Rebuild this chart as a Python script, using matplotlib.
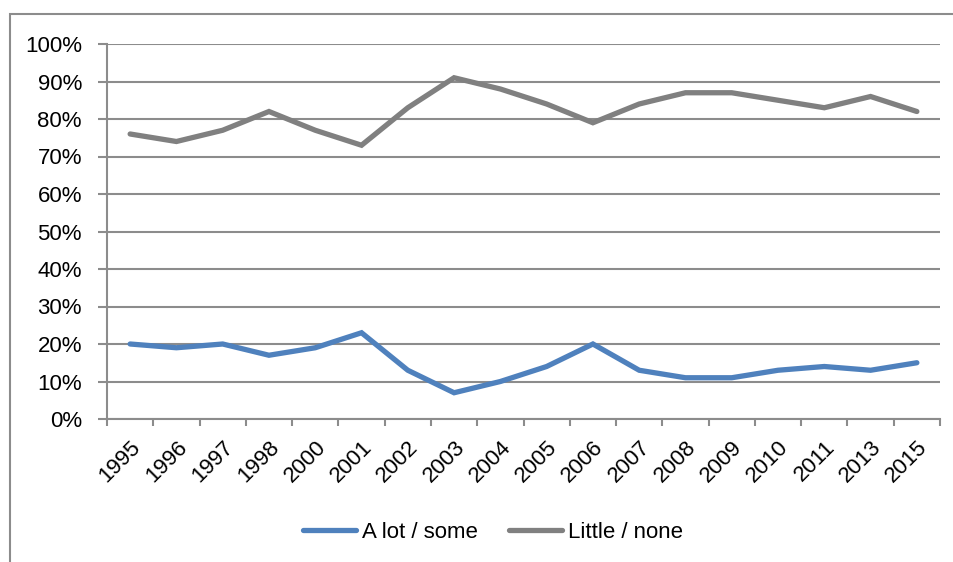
import matplotlib
matplotlib.use("Agg")
import matplotlib.pyplot as plt
from matplotlib.patches import Rectangle
import numpy as np

years = ["1995", "1996", "1997", "1998", "2000", "2001", "2002", "2003", "2004",
         "2005", "2006", "2007", "2008", "2009", "2010", "2011", "2013", "2015"]
a_lot_some = [20, 19, 20, 17, 19, 23, 13, 7, 10, 14, 20, 13, 11, 11, 13, 14, 13, 15]
little_none = [76, 74, 77, 82, 77, 73, 83, 91, 88, 84, 79, 84, 87, 87, 85, 83, 86, 82]
y_ticks = [0, 10, 20, 30, 40, 50, 60, 70, 80, 90, 100]

plt.rcParams["font.family"] = ["Liberation Sans", "DejaVu Sans"]

grid_col = "#8c8c8c"
blue = "#4f81bd"
gray = "#808080"
fs = 16

fig = plt.figure(figsize=(9.54, 5.62), dpi=100)
fig.patch.set_facecolor("white")

# chart frame
fig.add_artist(Rectangle((10 / 954, -0.05), 1.1, 1 - 14 / 562 + 0.05,
                         transform=fig.transFigure, fill=False,
                         edgecolor="#8c8c8c", linewidth=1.5))

ax = fig.add_axes([107 / 954, 1 - 419 / 562, (940 - 107) / 954, (419 - 44) / 562])

x = np.arange(len(years))
ax.plot(x, a_lot_some, color=blue, linewidth=3.8, solid_capstyle="round",
        solid_joinstyle="miter", label="A lot / some", zorder=3)
ax.plot(x, little_none, color=gray, linewidth=3.8, solid_capstyle="round",
        solid_joinstyle="miter", label="Little / none", zorder=3)

ax.set_xlim(-0.5, len(years) - 0.5)
ax.set_ylim(0, 100)

ax.set_yticks(y_ticks)
ax.set_yticklabels([f"{v}%" for v in y_ticks], fontsize=fs)
ax.yaxis.grid(True, color=grid_col, linewidth=1.5)
ax.set_axisbelow(True)

# tick marks at category boundaries, labels at category centres
ax.set_xticks(np.arange(-0.5, len(years), 1.0))
ax.set_xticklabels([])
ax.set_xticks(x, minor=True)
ax.set_xticklabels(years, minor=True, fontsize=fs, rotation=45,
                   ha="right", va="top", rotation_mode="anchor")
ax.tick_params(axis="x", which="minor", length=0, pad=13)
ax.tick_params(axis="x", which="major", length=5, width=1.5, color=grid_col)
ax.tick_params(axis="y", length=6.5, width=1.5, color=grid_col, pad=11.5)

for s in ["top", "right"]:
    ax.spines[s].set_visible(False)
for s in ["left", "bottom"]:
    ax.spines[s].set_color(grid_col)
    ax.spines[s].set_linewidth(1.5)

leg = fig.legend(loc="center", bbox_to_anchor=(493 / 954, 1 - 532 / 562), ncol=2,
                 frameon=False, fontsize=fs, handlelength=2.4, handletextpad=0.25,
                 columnspacing=1.4)

fig.savefig("out.png", dpi=100, facecolor="white")
